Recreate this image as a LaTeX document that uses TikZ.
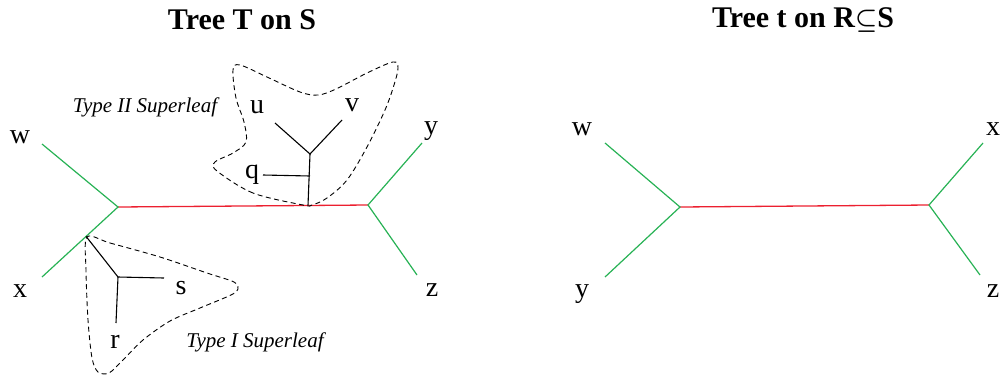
\documentclass[tikz,border=0pt]{standalone}
\usepackage{fontspec}
\setmainfont{Liberation Serif}
\usepackage{amssymb}
\usetikzlibrary{calc}
\definecolor{leafgreen}{RGB}{40,178,85}
\definecolor{spinered}{RGB}{236,32,48}

\begin{document}
\begin{tikzpicture}[x=1pt, y=-1pt,
      taxon/.style={inner sep=0pt, font=\fontsize{28}{28}\selectfont},
      heading/.style={inner sep=0pt, font=\fontsize{30}{30}\selectfont\bfseries},
      tag/.style={inner sep=0pt, font=\fontsize{21}{21}\selectfont\itshape},
      pendant/.style={draw=leafgreen, line width=1.2pt},
      spine/.style={draw=spinered, line width=1.3pt},
      subtree/.style={draw=black, line width=1.1pt},
      hull/.style={draw=black, line width=0.9pt, dash pattern=on 5pt off 3.5pt}]
    \useasboundingbox (0,0) rectangle (1003,381);

    % titles
    \node[heading] (T1) at (242,20) {Tree T on S};
    \node[heading] (T2) at (803,20) {Tree t on R{\boldmath$\subseteq$}S};

    % tree T on S
    \coordinate (LJ) at (118,207);
    \coordinate (RJ) at (368,205);
    \coordinate (Lw) at (42,144);
    \coordinate (Lx) at (42,277);
    \coordinate (Ly) at (422,143);
    \coordinate (Lz) at (417,275);
    \node[taxon] (lw) at (20,137) {w};
    \node[taxon] (lx) at (20,291) {x};
    \node[taxon] (ly) at (431,131) {y};
    \node[taxon] (lz) at (432,290) {z};

    \draw[spine] (LJ) -- (RJ);
    \draw[pendant] (Lw) -- (LJ) -- (Lx);
    \draw[pendant] (Ly) -- (RJ) -- (Lz);

    % type II superleaf
    \coordinate (A2) at ($(LJ)!0.76!(RJ)$);
    \coordinate (P2) at (310,154);
    \coordinate (Q2) at (310,176);
    \coordinate (Qe) at (263,175);
    \coordinate (Ue) at (275,123);
    \coordinate (Ve) at (342,120);
    \node[taxon] (lu) at (257,107) {u};
    \node[taxon] (lv) at (352,105) {v};
    \node[taxon] (lq) at (252,175) {q};
    \draw[subtree] (A2) -- (P2);
    \draw[subtree] (Ue) -- (P2) -- (Ve);
    \draw[subtree] (Qe) -- (Q2);
    \draw[hull] plot[smooth cycle, tension=0.55] coordinates {
      (303,205) (253,193) (217,171) (215,162) (233,153) (246,142)
      (244,122) (236,98) (233,70) (240,65) (267,77) (300,92) (318,95)
      (336,89) (367,73) (393,62) (398,68) (394,85) (385,110)
      (367,147) (347,180) (327,198) (312,205)};
    \node[tag] (n2) at (145,107) {Type II Superleaf};

    % type I superleaf
    \coordinate (A1) at ($(LJ)!0.42!(Lx)$);
    \coordinate (P1) at (118,277);
    \coordinate (Se) at (164,278);
    \coordinate (Re) at (116,323);
    \node[taxon] (ls) at (181,288) {s};
    \node[taxon] (lr) at (115,342) {r};
    \draw[subtree] (A1) -- (P1) -- (Se);
    \draw[subtree] (P1) -- (Re);
    \draw[hull] plot[smooth cycle, tension=0.5] coordinates {
      (87,237) (110,243) (160,257) (207,273) (234,282) (238,289)
      (231,295) (200,308) (170,321) (143,340) (123,360) (109,373)
      (98,372) (92,358) (88,320) (86,270)};
    \node[tag] (n1) at (255,342) {Type I Superleaf};

    % tree t on R
    \coordinate (RLJ) at (680,207);
    \coordinate (RRJ) at (929,205);
    \coordinate (Rw) at (605,143);
    \coordinate (Ry) at (605,277);
    \coordinate (Rx) at (983,143);
    \coordinate (Rz) at (980,275);
    \node[taxon] (rw) at (582,129) {w};
    \node[taxon] (ry) at (582,294) {y};
    \node[taxon] (rx) at (993,129) {x};
    \node[taxon] (rz) at (993,291) {z};

    \draw[spine] (RLJ) -- (RRJ);
    \draw[pendant] (Rw) -- (RLJ) -- (Ry);
    \draw[pendant] (Rx) -- (RRJ) -- (Rz);
  \end{tikzpicture}
\end{document}
